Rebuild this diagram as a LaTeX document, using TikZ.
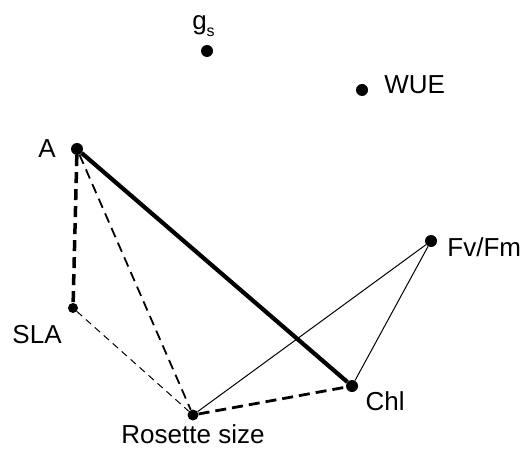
\documentclass[tikz,border=0pt]{standalone}
\usepackage{fontspec}
\setmainfont{Liberation Sans}
\usetikzlibrary{positioning}

\begin{document}
\begin{tikzpicture}[x=1pt,y=-1pt,node distance=6pt,
    trait/.style={circle,fill,inner sep=0pt,minimum size=12pt},
    lbl/.style={inner sep=1pt,font=\fontsize{26}{28}\selectfont},
    posstrong/.style={line width=4.2pt},
    posweak/.style={line width=1pt},
    negstrong/.style={line width=3.5pt,dash pattern=on 11pt off 6pt},
    negmid/.style={line width=1.8pt,dash pattern=on 10pt off 6pt},
    negweak/.style={line width=1pt,dash pattern=on 7pt off 5pt}]
     \useasboundingbox (0,0) rectangle (524,449);

     \node[trait] (gs) at (207,51) {};
     \node[trait] (wue) at (362,90) {};
     \node[trait] (a) at (77,149) {};
     \node[trait,minimum size=10pt] (sla) at (73,308) {};
     \node[trait] (fvfm) at (431,241) {};
     \node[trait] (chl) at (352,386) {};
     \node[trait,minimum size=11pt] (ros) at (193,415) {};

     \node[lbl,above=7pt of gs,xshift=-3.5pt]
          {g\raisebox{-7pt}{\fontsize{16}{16}\selectfont s}};
     \node[lbl,right=15pt of wue,yshift=5pt] {WUE};
     \node[lbl,left=14pt of a] {A};
     \node[lbl,below left=12.5pt and 6.5pt of sla] {SLA};
     \node[lbl,right=9pt of fvfm,yshift=-6pt] {Fv/Fm};
     \node[lbl,below right=0pt and 8pt of chl] {Chl};
     \node[lbl,inner sep=0pt,below=4pt of ros] {Rosette size};

     \path
     (a) edge[posstrong] (chl)
     (a) edge[negstrong] (sla)
     (a) edge[negmid] (ros)
     (sla) edge[negweak] (ros)
     (ros) edge[negstrong,line width=2.8pt] (chl)
     (ros) edge[posweak] (fvfm)
     (chl) edge[posweak] (fvfm);
\end{tikzpicture}
\end{document}
